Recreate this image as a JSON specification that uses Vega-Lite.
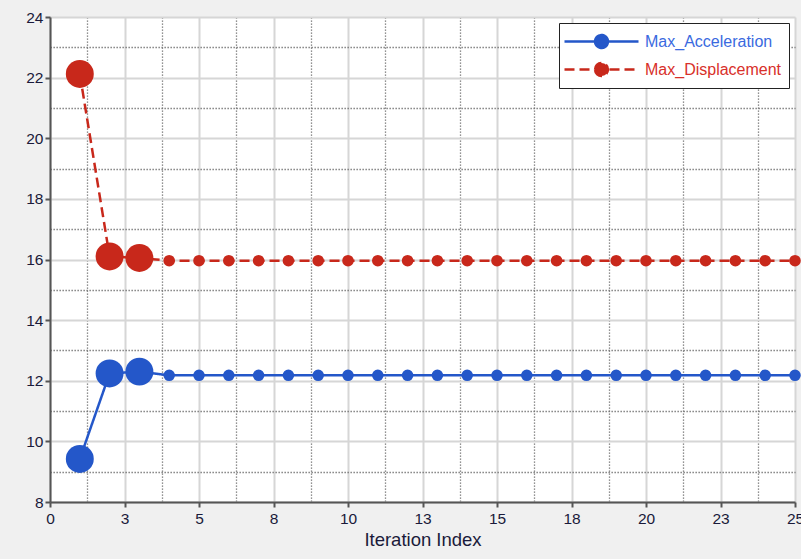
{
  "$schema": "https://vega.github.io/schema/vega-lite/v6.json",
  "autosize": "none",
  "width": 745,
  "height": 485,
  "padding": {"left": 50, "top": 17, "right": 6, "bottom": 57},
  "background": "#f0f0f0",
  "config": {
    "view": {"fill": "white", "stroke": null},
    "font": "Liberation Sans"
  },
  "data": {
    "values": [
      {"iter": 1, "series": "Max_Acceleration", "value": 9.42},
      {"iter": 2, "series": "Max_Acceleration", "value": 12.24},
      {"iter": 3, "series": "Max_Acceleration", "value": 12.3},
      {"iter": 4, "series": "Max_Acceleration", "value": 12.18},
      {"iter": 5, "series": "Max_Acceleration", "value": 12.18},
      {"iter": 6, "series": "Max_Acceleration", "value": 12.18},
      {"iter": 7, "series": "Max_Acceleration", "value": 12.18},
      {"iter": 8, "series": "Max_Acceleration", "value": 12.18},
      {"iter": 9, "series": "Max_Acceleration", "value": 12.18},
      {"iter": 10, "series": "Max_Acceleration", "value": 12.18},
      {"iter": 11, "series": "Max_Acceleration", "value": 12.18},
      {"iter": 12, "series": "Max_Acceleration", "value": 12.18},
      {"iter": 13, "series": "Max_Acceleration", "value": 12.18},
      {"iter": 14, "series": "Max_Acceleration", "value": 12.18},
      {"iter": 15, "series": "Max_Acceleration", "value": 12.18},
      {"iter": 16, "series": "Max_Acceleration", "value": 12.18},
      {"iter": 17, "series": "Max_Acceleration", "value": 12.18},
      {"iter": 18, "series": "Max_Acceleration", "value": 12.18},
      {"iter": 19, "series": "Max_Acceleration", "value": 12.18},
      {"iter": 20, "series": "Max_Acceleration", "value": 12.18},
      {"iter": 21, "series": "Max_Acceleration", "value": 12.18},
      {"iter": 22, "series": "Max_Acceleration", "value": 12.18},
      {"iter": 23, "series": "Max_Acceleration", "value": 12.18},
      {"iter": 24, "series": "Max_Acceleration", "value": 12.18},
      {"iter": 25, "series": "Max_Acceleration", "value": 12.18},
      {"iter": 1, "series": "Max_Displacement", "value": 22.12},
      {"iter": 2, "series": "Max_Displacement", "value": 16.1},
      {"iter": 3, "series": "Max_Displacement", "value": 16.05},
      {"iter": 4, "series": "Max_Displacement", "value": 15.96},
      {"iter": 5, "series": "Max_Displacement", "value": 15.96},
      {"iter": 6, "series": "Max_Displacement", "value": 15.96},
      {"iter": 7, "series": "Max_Displacement", "value": 15.96},
      {"iter": 8, "series": "Max_Displacement", "value": 15.96},
      {"iter": 9, "series": "Max_Displacement", "value": 15.96},
      {"iter": 10, "series": "Max_Displacement", "value": 15.96},
      {"iter": 11, "series": "Max_Displacement", "value": 15.96},
      {"iter": 12, "series": "Max_Displacement", "value": 15.96},
      {"iter": 13, "series": "Max_Displacement", "value": 15.96},
      {"iter": 14, "series": "Max_Displacement", "value": 15.96},
      {"iter": 15, "series": "Max_Displacement", "value": 15.96},
      {"iter": 16, "series": "Max_Displacement", "value": 15.96},
      {"iter": 17, "series": "Max_Displacement", "value": 15.96},
      {"iter": 18, "series": "Max_Displacement", "value": 15.96},
      {"iter": 19, "series": "Max_Displacement", "value": 15.96},
      {"iter": 20, "series": "Max_Displacement", "value": 15.96},
      {"iter": 21, "series": "Max_Displacement", "value": 15.96},
      {"iter": 22, "series": "Max_Displacement", "value": 15.96},
      {"iter": 23, "series": "Max_Displacement", "value": 15.96},
      {"iter": 24, "series": "Max_Displacement", "value": 15.96},
      {"iter": 25, "series": "Max_Displacement", "value": 15.96}
    ]
  },
  "encoding": {
    "x": {
      "field": "iter", "type": "quantitative",
      "scale": {"domain": [0, 25], "nice": false, "zero": false},
      "axis": {
        "title": "Iteration Index",
        "titleFont": "Liberation Sans", "titleFontSize": 18.5, "titleFontWeight": "normal", "titleColor": "#1a1a3a",
        "titlePadding": 4,
        "values": [0, 1.25, 2.5, 3.75, 5, 6.25, 7.5, 8.75, 10, 11.25, 12.5, 13.75, 15, 16.25, 17.5, 18.75, 20, 21.25, 22.5, 23.75, 25],
        "labelExpr": "abs(datum.value/2.5 - round(datum.value/2.5)) < 0.01 ? format(round(datum.value), 'd') : ''",
        "labelOverlap": false, "labelFlush": false,
        "labelFontSize": 15.5, "labelColor": "#1a1a3a", "labelPadding": 4,
        "domainColor": "#555555", "domainWidth": 2,
        "tickSize": 5, "tickWidth": 2, "tickColor": "#555555",
        "tickOpacity": {"condition": {"test": "abs(datum.value/2.5 - round(datum.value/2.5)) < 0.01", "value": 1}, "value": 0},
        "grid": true,
        "gridColor": {"condition": {"test": "abs(datum.value/2.5 - round(datum.value/2.5)) < 0.01", "value": "#d6d6d6"}, "value": "#707070"},
        "gridWidth": {"condition": {"test": "abs(datum.value/2.5 - round(datum.value/2.5)) < 0.01", "value": 2}, "value": 1.3},
        "gridDash": {"condition": {"test": "abs(datum.value/2.5 - round(datum.value/2.5)) < 0.01", "value": []}, "value": [1.3, 1.7]}
      }
    },
    "y": {
      "field": "value", "type": "quantitative",
      "scale": {"domain": [8, 24], "nice": false, "zero": false},
      "axis": {
        "title": null,
        "values": [8, 9, 10, 11, 12, 13, 14, 15, 16, 17, 18, 19, 20, 21, 22, 23, 24],
        "labelExpr": "datum.value % 2 == 0 ? format(datum.value, 'd') : ''",
        "labelOverlap": false, "labelFlush": false,
        "labelFontSize": 15.5, "labelColor": "#1a1a3a", "labelPadding": 2,
        "domainColor": "#555555", "domainWidth": 2,
        "tickSize": 5, "tickWidth": 2, "tickColor": "#555555",
        "tickOpacity": {"condition": {"test": "datum.value % 2 == 0", "value": 1}, "value": 0},
        "grid": true,
        "gridColor": {"condition": {"test": "datum.value % 2 == 0", "value": "#d6d6d6"}, "value": "#707070"},
        "gridWidth": {"condition": {"test": "datum.value % 2 == 0", "value": 2}, "value": 1.3},
        "gridDash": {"condition": {"test": "datum.value % 2 == 0", "value": []}, "value": [1.3, 1.7]}
      }
    },
    "color": {
      "field": "series", "type": "nominal",
      "scale": {"domain": ["Max_Acceleration", "Max_Displacement"], "range": ["#2457c9", "#c8281b"]},
      "legend": {
        "title": null,
        "orient": "top-right",
        "offset": 6,
        "padding": 7,
        "rowPadding": 5,
        "fillColor": "white",
        "strokeColor": "#222222",
        "symbolType": "M-1.3,0L6.1,0M1.75,0A0.65,0.65,0,1,1,3.05,0A0.65,0.65,0,1,1,1.75,0Z",
        "symbolSize": 400,
        "symbolStrokeWidth": 2.4,
        "labelOffset": 56,
        "labelFontSize": 16,
        "labelFont": "Liberation Sans",
        "encode": {
          "symbols": {"update": {
            "fill": {"signal": "datum.value === 'Max_Acceleration' ? '#2457c9' : '#c8281b'"},
            "stroke": {"signal": "datum.value === 'Max_Acceleration' ? '#2457c9' : '#c8281b'"},
            "opacity": {"value": 1},
            "fillOpacity": {"value": 1}
          }},
          "labels": {"update": {
            "fill": {"signal": "datum.value === 'Max_Acceleration' ? '#3a6ae0' : '#d8302a'"}
          }}
        }
      }
    }
  },
  "layer": [
    {
      "mark": {"type": "line", "strokeWidth": 2.5},
      "encoding": {
        "strokeDash": {
          "field": "series", "type": "nominal",
          "scale": {"domain": ["Max_Acceleration", "Max_Displacement"], "range": [[1, 0], [10, 5]]},
          "legend": {
            "title": null,
            "orient": "top-right",
            "offset": 6,
            "padding": 7,
            "rowPadding": 5,
            "fillColor": "white",
            "strokeColor": "#222222",
            "symbolType": "M-1.3,0L6.1,0M1.75,0A0.65,0.65,0,1,1,3.05,0A0.65,0.65,0,1,1,1.75,0Z",
            "symbolSize": 400,
            "symbolStrokeWidth": 2.4,
            "labelOffset": 56,
            "labelFontSize": 16,
            "labelFont": "Liberation Sans"
          }
        }
      }
    },
    {
      "mark": {"type": "circle", "opacity": 1},
      "encoding": {
        "size": {"condition": {"test": "datum.iter <= 3", "value": 780}, "value": 135}
      }
    }
  ]
}
